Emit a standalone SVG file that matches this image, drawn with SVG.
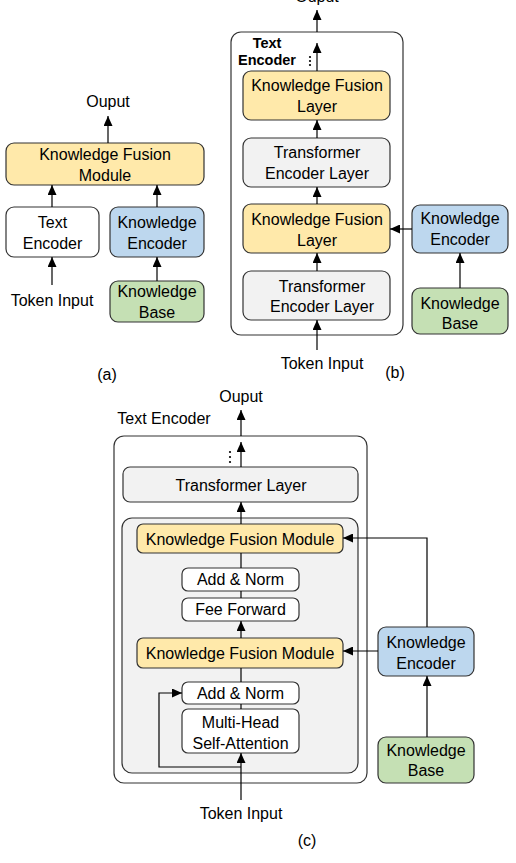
<svg xmlns="http://www.w3.org/2000/svg" width="516" height="863" viewBox="0 0 516 863">
<defs>
<marker id="ah" viewBox="0 0 10 9" refX="10" refY="4.5" markerWidth="10" markerHeight="9" markerUnits="userSpaceOnUse" orient="auto">
<path d="M0,0 L10,4.5 L0,9 z" fill="#000"/>
</marker>
<style>
text{font-family:"Liberation Sans",Arial,sans-serif;font-size:16px;fill:#000;text-anchor:middle}
.b{stroke:#333;stroke-width:1.2}
.y{fill:#ffe9aa}
.bl{fill:#bdd7ee}
.g{fill:#c5e0b4}
.gr{fill:#f2f2f2}
.w{fill:#fff}
.c{fill:none;stroke:#000;stroke-width:1.2}
.a{marker-end:url(#ah)}
.bold{font-weight:bold;font-size:14.5px}
</style>
</defs>
<rect width="516" height="863" fill="#fff"/>

<!-- Panel (a) -->
<g id="a-output"><text x="108" y="107">Ouput</text></g>
<g id="a-kfm"><rect class="b y" x="6" y="143" width="198" height="42" rx="8"/><text x="105" y="159.5">Knowledge Fusion</text><text x="105" y="180.5">Module</text></g>
<g id="a-text-encoder"><rect class="b w" x="6" y="207" width="93" height="50" rx="8"/><text x="52.5" y="227.5">Text</text><text x="52.5" y="248.5">Encoder</text></g>
<g id="a-knowledge-encoder"><rect class="b bl" x="110" y="207" width="94" height="50" rx="8"/><text x="157" y="227.5">Knowledge</text><text x="157" y="248.5">Encoder</text></g>
<g id="a-knowledge-base"><rect class="b g" x="110" y="281" width="94" height="41" rx="8"/><text x="157" y="296.5">Knowledge</text><text x="157" y="317.5">Base</text></g>
<g id="a-token-input"><text x="52" y="305.5">Token Input</text></g>
<g id="a-label"><text x="107" y="379.5">(a)</text></g>

<!-- Panel (b) -->
<g id="b-output"><text x="317" y="2">Ouput</text></g>
<g id="b-text-encoder"><rect class="b w" x="231" y="32" width="172" height="303" rx="10"/><text class="bold" x="267" y="48">Text</text><text class="bold" x="267" y="65">Encoder</text>
<circle cx="310" cy="57" r="1.1"/><circle cx="310" cy="61" r="1.1"/><circle cx="310" cy="65" r="1.1"/></g>
<g id="b-kfl1"><rect class="b y" x="243" y="71" width="147" height="49" rx="8"/><text x="317" y="90.5">Knowledge Fusion</text><text x="317" y="111.5">Layer</text></g>
<g id="b-tel1"><rect class="b gr" x="243" y="138" width="147" height="49" rx="8"/><text x="317" y="157.5">Transformer</text><text x="317" y="178.5">Encoder Layer</text></g>
<g id="b-kfl2"><rect class="b y" x="243" y="204" width="147" height="49" rx="8"/><text x="317" y="224.5">Knowledge Fusion</text><text x="317" y="245.5">Layer</text></g>
<g id="b-tel2"><rect class="b gr" x="243" y="271" width="147" height="49" rx="8"/><text x="322" y="291.5">Transformer</text><text x="322" y="311.5">Encoder Layer</text></g>
<g id="b-knowledge-encoder"><rect class="b bl" x="412" y="205" width="96" height="48" rx="8"/><text x="460" y="223.5">Knowledge</text><text x="460" y="244.5">Encoder</text></g>
<g id="b-knowledge-base"><rect class="b g" x="412" y="288" width="96" height="46" rx="8"/><text x="460" y="308.5">Knowledge</text><text x="460" y="328.5">Base</text></g>
<g id="b-token-input"><text x="322" y="368.5">Token Input</text></g>
<g id="b-label"><text x="395" y="377.5">(b)</text></g>

<!-- Panel (c) -->
<g id="c-output"><text x="241" y="401.5">Ouput</text></g>
<g id="c-text-encoder"><text x="164" y="423.5">Text Encoder</text><rect class="b w" x="114" y="436" width="253" height="347" rx="10"/>
<circle cx="230" cy="452" r="1.1"/><circle cx="230" cy="457" r="1.1"/><circle cx="230" cy="462" r="1.1"/></g>
<g id="c-transformer-layer"><rect class="b gr" x="123" y="467" width="235" height="35" rx="7"/><text x="241" y="490.5">Transformer Layer</text></g>
<g id="c-inner"><rect class="b gr" x="122" y="518" width="236" height="255" rx="10"/></g>
<g id="c-kfm1"><rect class="b y" x="137" y="524" width="206" height="29" rx="6"/><text x="240" y="544.5">Knowledge Fusion Module</text></g>
<g id="c-addnorm1"><rect class="b w" x="182" y="568" width="117" height="23" rx="6"/><text x="240.5" y="584.5">Add &amp; Norm</text></g>
<g id="c-feeforward"><rect class="b w" x="182" y="598" width="117" height="23" rx="6"/><text x="240.5" y="614.5">Fee Forward</text></g>
<g id="c-kfm2"><rect class="b y" x="137" y="638" width="206" height="30" rx="6"/><text x="240" y="658.5">Knowledge Fusion Module</text></g>
<g id="c-addnorm2"><rect class="b w" x="182" y="682" width="117" height="22" rx="6"/><text x="240.5" y="698.5">Add &amp; Norm</text></g>
<g id="c-mhsa"><rect class="b w" x="182" y="709" width="117" height="44" rx="6"/><text x="240.5" y="727.5">Multi-Head</text><text x="240.5" y="748.5">Self-Attention</text></g>
<g id="c-knowledge-encoder"><rect class="b bl" x="378" y="627" width="96" height="49" rx="8"/><text x="426" y="647.5">Knowledge</text><text x="426" y="668.5">Encoder</text></g>
<g id="c-knowledge-base"><rect class="b g" x="378" y="737" width="96" height="46" rx="8"/><text x="426" y="755.5">Knowledge</text><text x="426" y="775.5">Base</text></g>
<g id="c-token-input"><text x="241" y="818.5">Token Input</text></g>
<g id="c-label"><text x="307" y="845.5">(c)</text></g>

<!-- Connectors -->
<g id="connectors">
<path class="c a" d="M108,143 V116"/>
<path class="c a" d="M52,207 V185"/>
<path class="c a" d="M157,207 V185"/>
<path class="c a" d="M52,285 V257"/>
<path class="c a" d="M157,281 V257"/>

<path class="c a" d="M317,71 V43"/>
<path class="c a" d="M317,32 V10"/>
<path class="c a" d="M317,138 V120"/>
<path class="c a" d="M317,204 V187"/>
<path class="c a" d="M317,271 V253"/>
<path class="c a" d="M317,350 V320"/>
<path class="c a" d="M412,229 H390"/>
<path class="c a" d="M460,288 V253"/>

<path class="c a" d="M241,436 V410"/>
<path class="c a" d="M241,467 V442"/>
<path class="c a" d="M241,524 V502"/>
<path class="c" d="M241,568 V553"/>
<path class="c" d="M241,598 V591"/>
<path class="c a" d="M241,638 V621"/>
<path class="c" d="M241,682 V668"/>
<path class="c" d="M241,709 V704"/>
<path class="c a" d="M241,800 V753"/>
<path class="c a" d="M241,767 H159 V693 H182"/>
<path class="c a" d="M427,627 V538 H343"/>
<path class="c a" d="M378,651 H343"/>
<path class="c a" d="M427,737 V676"/>
</g>
</svg>
